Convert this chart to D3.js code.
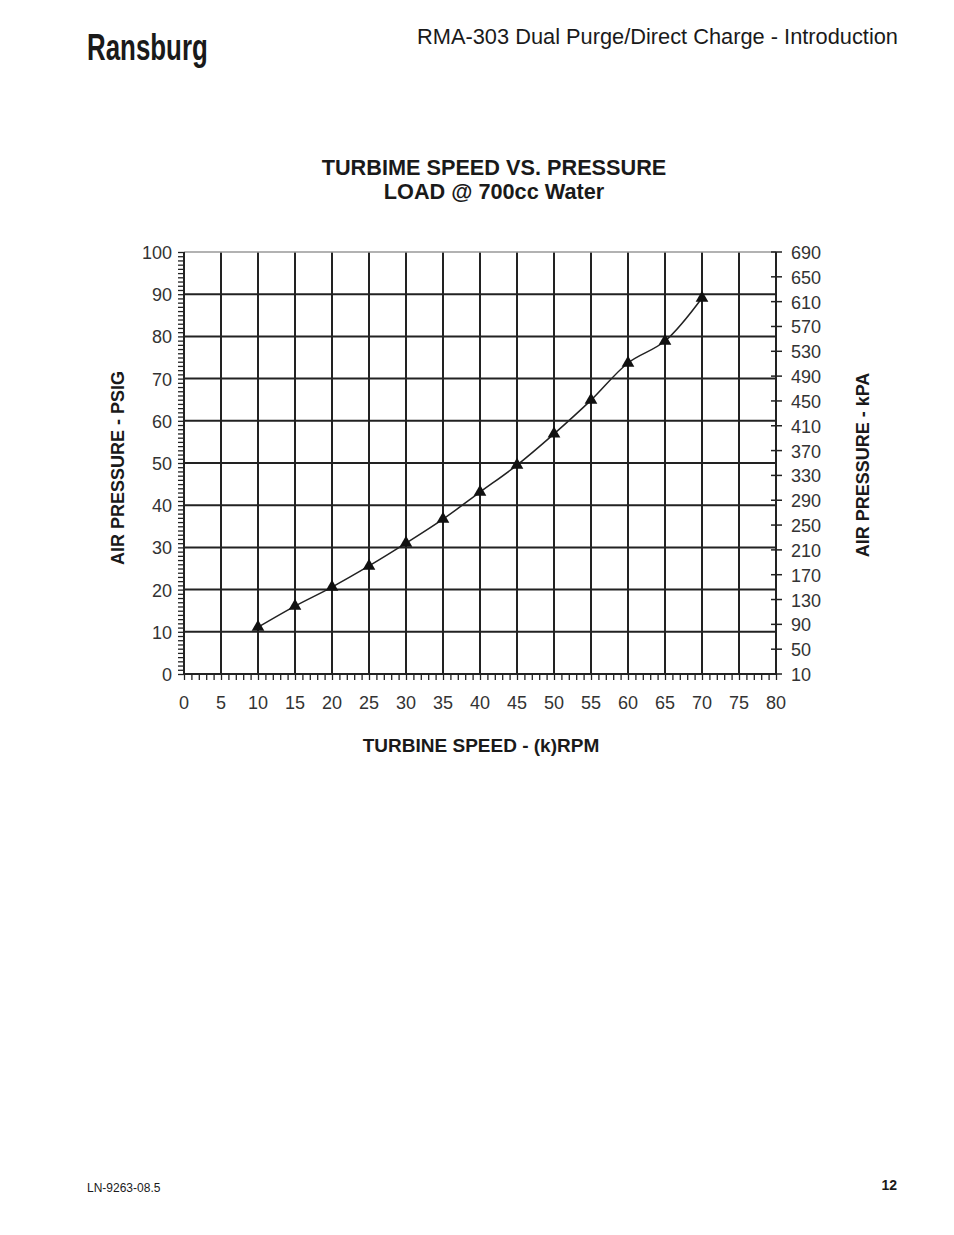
<!DOCTYPE html>
<html>
<head>
<meta charset="utf-8">
<script src="https://cdn.jsdelivr.net/npm/d3@7"></script>
<style>
  body { margin: 0; background: #fff; }
  svg { display: block; }
</style>
</head>
<body>
<svg id="chart" width="954" height="1235"></svg>
<script>
// turbine speed (k rpm) vs air pressure (psig)
var speeds = [10, 15, 20, 25, 30, 35, 40, 45, 50, 55, 60, 65, 70];
var pressures = [11.1, 16.1, 20.6, 25.6, 31.0, 36.7, 43.1, 49.5, 56.9, 64.9, 73.7, 78.9, 89.1];
var xTicks = [0, 5, 10, 15, 20, 25, 30, 35, 40, 45, 50, 55, 60, 65, 70, 75, 80];
var psiTicks = [0, 10, 20, 30, 40, 50, 60, 70, 80, 90, 100];
var kpaTicks = [10, 50, 90, 130, 170, 210, 250, 290, 330, 370, 410, 450, 490, 530, 570, 610, 650, 690];

var svg = d3.select("#chart");
var ink = "#222";
var labelFont = "'Liberation Sans', Arial, sans-serif";

var x = d3.scaleLinear().domain([0, 80]).range([184, 776]);
var y = d3.scaleLinear().domain([0, 100]).range([674, 252]);
var yk = d3.scaleLinear().domain([10, 690]).range([674, 252]);

// page header / footer
svg.append("text")
    .attr("transform", "translate(87,60) scale(0.7,1)")
    .style("font-family", labelFont)
    .style("font-weight", "bold")
    .style("font-size", "37px")
    .style("fill", "#1a1a1a")
    .text("Ransburg");

svg.append("text")
    .attr("x", 898).attr("y", 44)
    .attr("text-anchor", "end")
    .style("font-family", labelFont)
    .style("font-size", "21.8px")
    .style("fill", "#1a1a1a")
    .text("RMA-303 Dual Purge/Direct Charge - Introduction");

svg.append("text")
    .attr("x", 87).attr("y", 1192)
    .style("font-family", labelFont)
    .style("font-size", "12px")
    .style("fill", "#1a1a1a")
    .text("LN-9263-08.5");

svg.append("text")
    .attr("x", 897).attr("y", 1190)
    .attr("text-anchor", "end")
    .style("font-family", labelFont)
    .style("font-weight", "bold")
    .style("font-size", "14px")
    .style("fill", "#1a1a1a")
    .text("12");

// chart title
svg.append("text")
    .attr("x", 494).attr("y", 175)
    .attr("text-anchor", "middle")
    .style("font-family", labelFont)
    .style("font-weight", "bold")
    .style("font-size", "21.7px")
    .style("fill", "#1a1a1a")
    .text("TURBIME SPEED VS. PRESSURE");

svg.append("text")
    .attr("x", 494).attr("y", 199)
    .attr("text-anchor", "middle")
    .style("font-family", labelFont)
    .style("font-weight", "bold")
    .style("font-size", "21.7px")
    .style("fill", "#1a1a1a")
    .text("LOAD @ 700cc Water");

// grid
var grid = svg.append("g");
grid.selectAll(".vgrid")
    .data(xTicks.filter(function(d) { return d > 0 && d < 80; }))
    .enter().append("line")
    .attr("x1", function(d) { return x(d); })
    .attr("x2", function(d) { return x(d); })
    .attr("y1", y(100)).attr("y2", y(0))
    .style("stroke", ink).style("stroke-width", 2);

grid.selectAll(".hgrid")
    .data(psiTicks.filter(function(d) { return d > 0; }))
    .enter().append("line")
    .attr("x1", x(0)).attr("x2", x(80))
    .attr("y1", function(d) { return y(d); })
    .attr("y2", function(d) { return y(d); })
    .style("stroke", function(d) { return d === 100 ? "#999" : ink; })
    .style("stroke-width", function(d) { return d === 100 ? 1.5 : 2; });

// left axis with minor ticks every 1 psi
var left = svg.append("g").attr("transform", "translate(" + x(0) + ",0)");
left.call(d3.axisLeft(y).ticks(100).tickSize(6).tickFormat(""));
left.select(".domain").remove();
left.selectAll("line").style("stroke", ink).style("stroke-width", 1.3);
left.append("line")
    .attr("y1", y(100)).attr("y2", y(0))
    .style("stroke", ink).style("stroke-width", 2);
svg.append("g").selectAll("text")
    .data(psiTicks)
    .enter().append("text")
    .attr("x", 172)
    .attr("y", function(d) { return y(d) + 7; })
    .attr("text-anchor", "end")
    .style("font-family", labelFont)
    .style("font-size", "18px")
    .style("fill", "#333")
    .text(function(d) { return d; });

// bottom axis with minor ticks every 1k rpm
var bottom = svg.append("g").attr("transform", "translate(0," + y(0) + ")");
bottom.call(d3.axisBottom(x).ticks(80).tickSize(6).tickFormat(""));
bottom.select(".domain").remove();
bottom.selectAll("line").style("stroke", ink).style("stroke-width", 1.3);
bottom.append("line")
    .attr("x1", x(0)).attr("x2", x(80))
    .style("stroke", ink).style("stroke-width", 2);
svg.append("g").selectAll("text")
    .data(xTicks)
    .enter().append("text")
    .attr("x", function(d) { return x(d); })
    .attr("y", 709)
    .attr("text-anchor", "middle")
    .style("font-family", labelFont)
    .style("font-size", "18px")
    .style("fill", "#333")
    .text(function(d) { return d; });

// right axis in kPa
var right = svg.append("g").attr("transform", "translate(" + x(80) + ",0)");
right.append("line")
    .attr("y1", yk(690)).attr("y2", yk(10))
    .style("stroke", ink).style("stroke-width", 2);
right.selectAll(".ktick")
    .data(kpaTicks)
    .enter().append("line")
    .attr("x1", -5).attr("x2", 6)
    .attr("y1", function(d) { return yk(d); })
    .attr("y2", function(d) { return yk(d); })
    .style("stroke", ink).style("stroke-width", 1.5);
right.selectAll("text")
    .data(kpaTicks)
    .enter().append("text")
    .attr("x", 15)
    .attr("y", function(d) { return yk(d) + 7; })
    .style("font-family", labelFont)
    .style("font-size", "18px")
    .style("fill", "#333")
    .text(function(d) { return d; });

// axis titles
svg.append("text")
    .attr("x", 481).attr("y", 752)
    .attr("text-anchor", "middle")
    .style("font-family", labelFont)
    .style("font-weight", "bold")
    .style("font-size", "19px")
    .style("fill", "#1a1a1a")
    .text("TURBINE SPEED - (k)RPM");

svg.append("text")
    .attr("transform", "translate(124,468) rotate(-90)")
    .attr("text-anchor", "middle")
    .style("font-family", labelFont)
    .style("font-weight", "bold")
    .style("font-size", "18px")
    .style("fill", "#1a1a1a")
    .text("AIR PRESSURE - PSIG");

svg.append("text")
    .attr("transform", "translate(869,465) rotate(-90)")
    .attr("text-anchor", "middle")
    .style("font-family", labelFont)
    .style("font-weight", "bold")
    .style("font-size", "18px")
    .style("fill", "#1a1a1a")
    .text("AIR PRESSURE - kPA");

// data curve and markers
var points = speeds.map(function(s, i) { return [s, pressures[i]]; });
var line = d3.line()
    .x(function(d) { return x(d[0]); })
    .y(function(d) { return y(d[1]); })
    .curve(d3.curveCatmullRom.alpha(0.5));

svg.append("path")
    .datum(points)
    .attr("d", line)
    .style("fill", "none")
    .style("stroke", ink)
    .style("stroke-width", 1.5);

svg.selectAll(".marker")
    .data(points)
    .enter().append("path")
    .attr("class", "marker")
    .attr("transform", function(d) { return "translate(" + x(d[0]) + "," + y(d[1]) + ")"; })
    .attr("d", d3.symbol().type(d3.symbolTriangle).size(70))
    .style("fill", "#111");
</script>
</body>
</html>
